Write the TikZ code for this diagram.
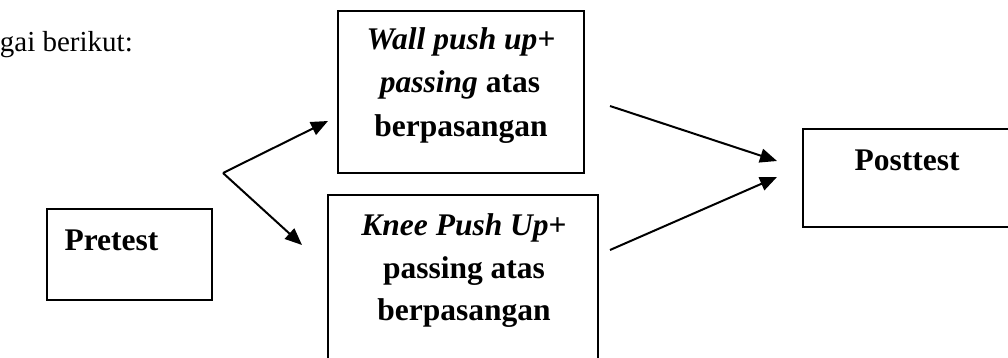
\documentclass[tikz,border=0pt]{standalone}
\usepackage{fontspec}
\setmainfont{Liberation Serif}
\usetikzlibrary{arrows.meta}
\begin{document}
\begin{tikzpicture}[x=1pt,y=-1pt,
  boxst/.style={draw,line width=2pt,inner sep=0pt},
  linetext/.style={anchor=base,inner sep=0pt,font=\fontsize{31.5}{40}\selectfont\bfseries},
  arrowst/.style={line width=2pt,-{Triangle[length=17pt,width=14pt]}}]
\clip (0,0) rectangle (1008,358);
\fill[white] (0,0) rectangle (1008,358);
% intro text
\node[anchor=base east,inner sep=0pt,font=\fontsize{29}{35}\selectfont] (intro) at (133,52) {gai berikut:};
% boxes
\node[boxst,minimum width=165pt,minimum height=91pt] (pre) at (129.5,254.5) {};
\node[boxst,minimum width=246pt,minimum height=162pt] (wall) at (461,92) {};
\node[boxst,minimum width=270pt,minimum height=190pt] (knee) at (463,290) {};
\node[boxst,minimum width=230pt,minimum height=98pt] (post) at (918,178) {};
% texts
\node[linetext] (pretxt) at (111.5,250) {Pretest};
\node[linetext] (w1) at (461,50) {\textit{Wall push up}+};
\node[linetext] (w2) at (460,93) {\textit{passing} atas};
\node[linetext] (w3) at (461,137) {berpasangan};
\node[linetext] (k1) at (464,235) {\textit{Knee Push Up}+};
\node[linetext] (k2) at (464,278) {passing atas};
\node[linetext] (k3) at (464,320) {berpasangan};
\node[linetext] (posttxt) at (907,171) {Posttest};
% connectors
\coordinate (branch) at (223,173);
\coordinate (wallin) at (328,121);
\coordinate (kneein) at (302,245);
\coordinate (wallout) at (610,106);
\coordinate (kneeout) at (610,250);
\coordinate (postin1) at (777,161);
\coordinate (postin2) at (777,177);
\draw[arrowst] (branch) -- (wallin);
\draw[arrowst] (branch) -- (kneein);
\draw[arrowst] (wallout) -- (postin1);
\draw[arrowst] (kneeout) -- (postin2);
\end{tikzpicture}
\end{document}
